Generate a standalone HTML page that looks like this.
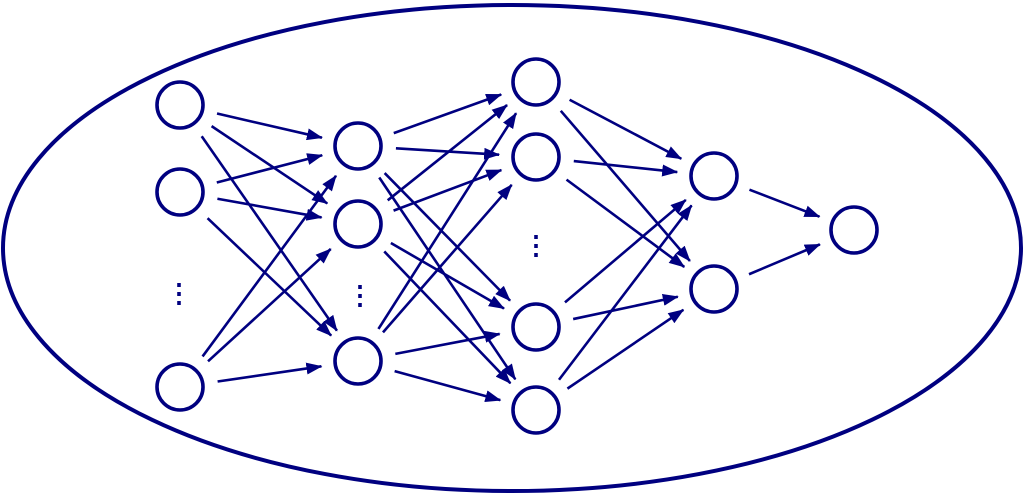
<!DOCTYPE html>
<html><head><meta charset="utf-8"><style>
html,body{margin:0;padding:0;background:#fff;width:1024px;height:497px;overflow:hidden}
svg{display:block}
</style></head><body>
<svg id="s" width="1024" height="497" viewBox="0 0 1024 497" xmlns="http://www.w3.org/2000/svg">
<defs><marker id="a" markerWidth="16" markerHeight="12" refX="15" refY="6" orient="auto" markerUnits="userSpaceOnUse"><path d="M0,0 L16,6 L0,12 z" fill="#000080"/></marker></defs>
<ellipse cx="512" cy="248" rx="509" ry="243" fill="none" stroke="#000080" stroke-width="4"/>
<g id="e" stroke="#000080" stroke-width="2.6" marker-end="url(#a)"></g>
<g id="n" fill="none" stroke="#000080" stroke-width="3.6"></g>
<g fill="#000080" font-family="Liberation Sans, sans-serif" font-size="26" font-weight="bold" text-anchor="middle">
<text x="179" y="302">⋮</text><text x="360" y="304">⋮</text><text x="536" y="254">⋮</text>
</g>
</svg>
<script>
var L=[[[180,105],[180,192],[180,387]],[[358,146],[358,224],[358,361]],[[536,82],[536,157],[536,327],[536,410]],[[714,176],[714,289]],[[854,230]]];
var ns="http://www.w3.org/2000/svg",E=document.getElementById('e'),N=document.getElementById('n');
for(var i=0;i<L.length;i++){for(var j=0;j<L[i].length;j++){var c=document.createElementNS(ns,'circle');c.setAttribute('cx',L[i][j][0]);c.setAttribute('cy',L[i][j][1]);c.setAttribute('r',23);N.appendChild(c);
if(i<L.length-1)for(var k=0;k<L[i+1].length;k++){var p=L[i][j],q=L[i+1][k],dx=q[0]-p[0],dy=q[1]-p[1],d=Math.sqrt(dx*dx+dy*dy),ux=dx/d,uy=dy/d;
var l=document.createElementNS(ns,'line');l.setAttribute('x1',p[0]+ux*38);l.setAttribute('y1',p[1]+uy*38);l.setAttribute('x2',q[0]-ux*37);l.setAttribute('y2',q[1]-uy*37);E.appendChild(l);}}}
</script>
</body></html>
